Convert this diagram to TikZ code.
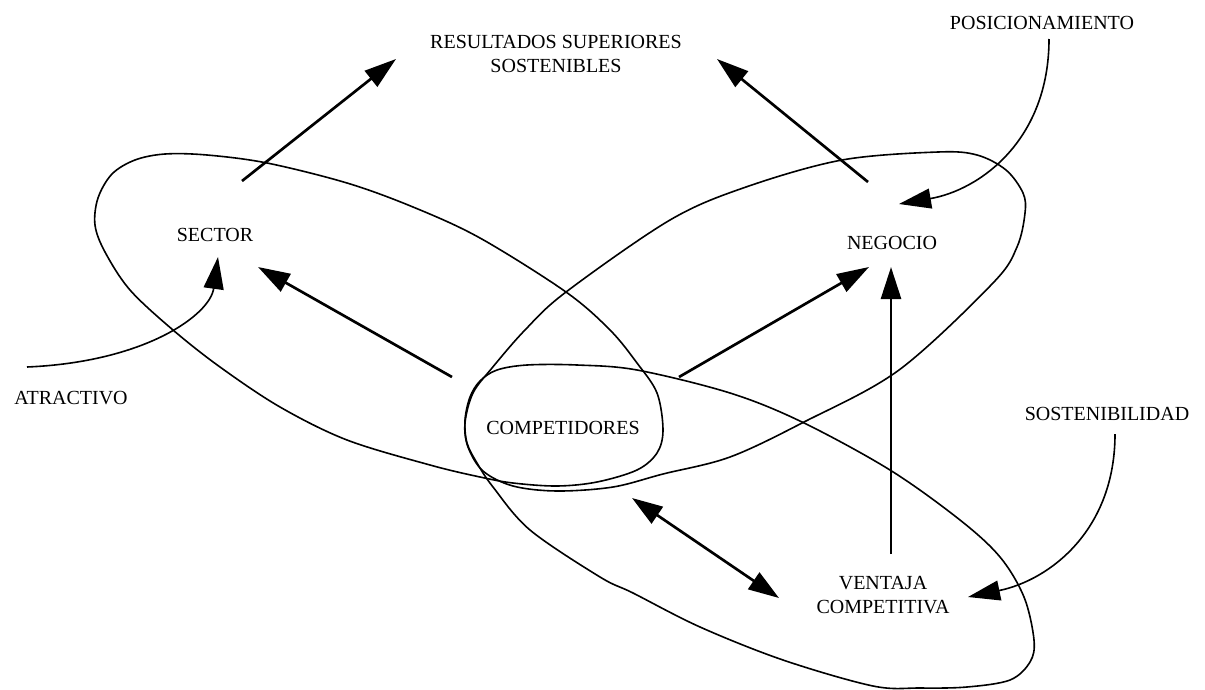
\documentclass[tikz,border=0pt]{standalone}
\usepackage{fontspec}
\setmainfont{Liberation Serif}
\usetikzlibrary{arrows.meta}

\begin{document}
\begin{tikzpicture}[x=0.75pt,y=0.75pt,yscale=-1,xscale=1,
  etiqueta/.style={inner sep=0.75pt,font=\fontsize{15}{18.5}\selectfont,align=center},
  lazo/.style={line width=1.2pt},
  flecha/.style={line width=2pt,-{Triangle[length=24pt,width=15pt]}},
  doble/.style={line width=2pt,{Triangle[length=23pt,width=15pt]}-{Triangle[length=23pt,width=15pt]}},
  curva/.style={line width=1.2pt,-{Triangle[length=24pt,width=15pt]}}]
\useasboundingbox (0,0) rectangle (1205,689);

%Shape: Loop sector
\draw [lazo] plot [smooth cycle, tension=0.55] coordinates {(165,154) (207,155) (267,163) (347,183) (413,207) (480,238) (566,292) (610,330) (637,363) (657,393) (663,430) (657,453) (637,470) (597,482) (557,486) (513,483) (480,477) (430,465) (347,440) (280,407) (220,367) (173,330) (130,290) (105,252) (95,225) (98,198) (112,174) (135,160)};
%Shape: Loop negocio
\draw [lazo] plot [smooth cycle, tension=0.55] coordinates {(465,423) (473,393) (492,368) (525,330) (566,292) (670,220) (746,187) (842,160) (938,152) (977,155) (1006,170) (1023,193) (1025,213) (1017,247) (993,283) (899,370) (804,422) (730,457) (663,474) (613,487) (557,491) (513,486) (483,471) (468,447)};
%Shape: Loop ventaja
\draw [lazo] plot [smooth cycle, tension=0.55] coordinates {(527,365) (577,365) (637,370) (730,393) (802,422) (890,470) (960,520) (1000,557) (1024,597) (1034,640) (1030,662) (1010,680) (967,687) (920,688) (873,686) (783,660) (700,627) (633,593) (600,577) (530,530) (493,487) (477,463) (467,443) (465,420) (470,397) (480,381) (497,370)};

% Text Node
\draw (556,54) node [etiqueta] (resultados) {RESULTADOS SUPERIORES\\SOSTENIBLES};
% Text Node
\draw (1042,23) node [etiqueta] (posicionamiento) {POSICIONAMIENTO};
% Text Node
\draw (215,235) node [etiqueta] (sector) {SECTOR};
% Text Node
\draw (892,243) node [etiqueta] (negocio) {NEGOCIO};
% Text Node
\draw (71,398) node [etiqueta] (atractivo) {ATRACTIVO};
% Text Node
\draw (563,428) node [etiqueta] (competidores) {COMPETIDORES};
% Text Node
\draw (1107,414) node [etiqueta] (sostenibilidad) {SOSTENIBILIDAD};
% Text Node
\draw (883,595) node [etiqueta] (ventaja) {VENTAJA\\COMPETITIVA};

% arrow ends
\coordinate (sec-out) at (242,181);
\coordinate (res-in-l) at (396,59);
\coordinate (neg-out) at (868,182);
\coordinate (res-in-r) at (717,59);
\coordinate (com-out-l) at (452,377);
\coordinate (sec-in) at (258,267);
\coordinate (com-out-r) at (679,377);
\coordinate (neg-in-l) at (869,267);
\coordinate (ven-out) at (891,554);
\coordinate (neg-in) at (891,267);
\coordinate (com-end) at (632,498);
\coordinate (ven-end) at (779,598);
\coordinate (atr-out) at (27,367);
\coordinate (sec-in-b) at (218,257);
\coordinate (pos-out) at (1049,39);
\coordinate (neg-in-t) at (899,204);
\coordinate (sos-out) at (1115,434);
\coordinate (ven-in) at (968,597);

%Straight Lines
\draw [flecha] (sec-out) -- (res-in-l);
%Straight Lines
\draw [flecha] (neg-out) -- (res-in-r);
%Straight Lines
\draw [flecha] (com-out-l) -- (sec-in);
%Straight Lines
\draw [flecha] (com-out-r) -- (neg-in-l);
%Straight Lines
\draw [flecha] (ven-out) -- (neg-in);
%Straight Lines
\draw [doble] (com-end) -- (ven-end);

%Curve Lines
\draw [curva] (atr-out) .. controls (145,362) and (210,315) .. (sec-in-b);
%Curve Lines
\draw [curva] (pos-out) .. controls (1049,140) and (980,190) .. (neg-in-t);
%Curve Lines
\draw [curva] (sos-out) .. controls (1115,530) and (1050,580) .. (ven-in);

\end{tikzpicture}
\end{document}
